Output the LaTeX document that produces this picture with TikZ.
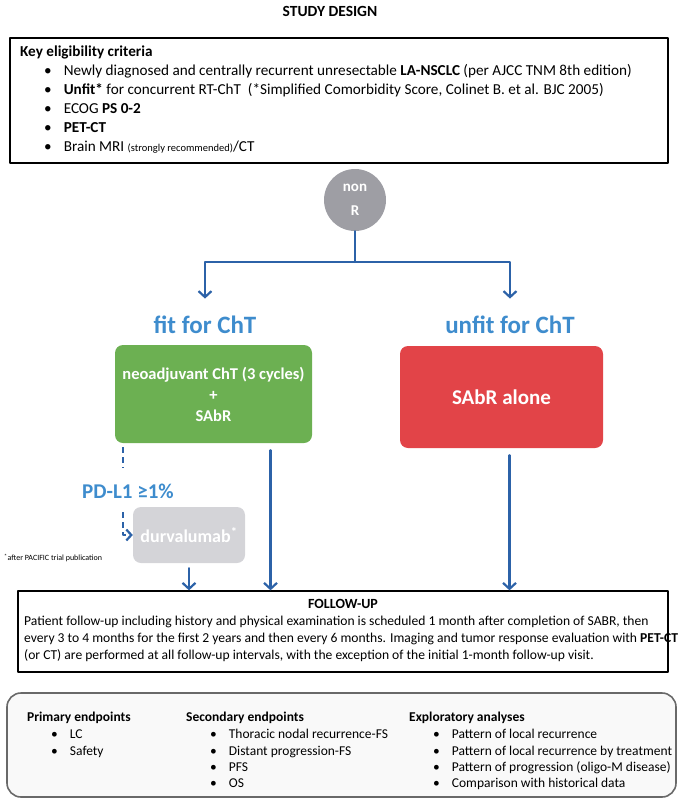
\documentclass[tikz,border=0pt]{standalone}
\usepackage{fontspec}
\setmainfont{Carlito}
\usetikzlibrary{positioning,arrows.meta}

\definecolor{arrowblue}{RGB}{44,98,168}
\definecolor{labelblue}{RGB}{62,140,205}
\definecolor{fitgreen}{RGB}{108,176,82}
\definecolor{unfitred}{RGB}{226,68,72}
\definecolor{randgray}{RGB}{158,158,164}
\definecolor{durvgray}{RGB}{212,212,216}
\definecolor{epgray}{RGB}{105,105,105}

\newcommand{\bitem}{\hspace*{24pt}\textbullet\hspace*{12pt}}

\begin{document}
\begin{tikzpicture}[line cap=round,line join=round,x=1pt,y=-1pt,
    frame/.style={draw=black,line width=1.3pt,inner sep=0pt},
    listtext/.style={anchor=north west,align=left,inner sep=0pt},
    armbox/.style={rounded corners=8pt,text=white,align=center,inner sep=0pt},
    armlabel/.style={text=labelblue,font=\bfseries\fontsize{25}{28}\selectfont},
    flow/.style={draw=arrowblue,line width=2.2pt,-{Straight Barb[length=6pt,width=13pt,line width=2.2pt]}},
    branch/.style={draw=arrowblue,line width=2.2pt},
    dashlink/.style={draw=arrowblue,line width=2.2pt,line cap=butt,dash pattern=on 6pt off 4pt}]
  \useasboundingbox (0,0) rectangle (679,800);

  % title and eligibility
  \node (title) at (330,11) {\bfseries\fontsize{15.5}{18}\selectfont STUDY DESIGN};
  \node[frame,minimum width=658,minimum height=125] (elig) at (339,100.5) {};
  \node[listtext,font=\fontsize{15.2}{19}\selectfont] (crit) at (20,46) {%
    \textbf{Key eligibility criteria}\\
    \bitem Newly diagnosed and centrally recurrent unresectable \textbf{LA-NSCLC} (per AJCC TNM 8th edition)\\
    \bitem \textbf{Unfit*} for concurrent RT-ChT\ \ (*Simplified Comorbidity Score, Colinet B. et al. BJC 2005)\\
    \bitem ECOG \textbf{PS 0-2}\\
    \bitem \textbf{PET-CT}\\
    \bitem Brain MRI {\fontsize{10.5}{12}\selectfont(strongly recommended)}/CT};

  % randomisation and arms
  \node[circle,fill=randgray,minimum size=62,text=white,align=center,
    font=\bfseries\fontsize{15}{24}\selectfont] (rand) at (355,200) {non\\R};
  \coordinate (split) at (355,262);
  \node[armlabel] (fit) at (205,325) {fit for ChT};
  \node[armlabel] (unfit) at (510,325) {unfit for ChT};
  \draw[branch] (rand.south) -- (split);
  \draw[flow] (split) -| ([yshift=14pt]fit.north);
  \draw[flow] (split) -| ([yshift=14pt]unfit.north);

  \node[armbox,fill=fitgreen,minimum width=197,minimum height=98,
    font=\bfseries\fontsize{16.5}{21}\selectfont] (neo) at (213.5,394)
    {neoadjuvant ChT (3 cycles)\\+\\SAbR};
  \node[armbox,fill=unfitred,minimum width=203,minimum height=102,
    font=\bfseries\fontsize{21}{24}\selectfont] (sabr) at (501.5,397) {SAbR alone};

  % PD-L1 branch
  \node[text=labelblue,font=\bfseries\fontsize{21}{24}\selectfont] (pdl) at (128,491) {PD-L1 ≥1\%};
  \node[armbox,fill=durvgray,minimum width=112,minimum height=56,
    font=\bfseries\fontsize{18}{20}\selectfont] (durv) at (189,535) {durvalumab\textsuperscript{*}};
  \node[anchor=west,inner sep=0pt,font=\fontsize{8}{9}\selectfont] (note) at (4,558)
    {\textsuperscript{*}after PACIFIC trial publication};
  \coordinate (dtop) at (123,447);
  \coordinate (dmid) at (123,468);
  \coordinate (dlow) at (123,512);
  \draw[dashlink] (dtop) -- (dmid);
  \draw[dashlink,-{Straight Barb[length=5pt,width=11pt,line width=2.2pt]}] (dlow) |- (durv.west);

  % follow-up
  \node[frame,minimum width=650,minimum height=81] (fu) at (343,631.5) {};
  \node[font=\bfseries\fontsize{14}{16}\selectfont] (futitle) at (343,604) {FOLLOW-UP};
  \node[listtext,font=\fontsize{13.6}{17}\selectfont] (futext) at (24,616) {%
    Patient follow-up including history and physical examination is scheduled 1 month after completion of SABR, then\\
    every 3 to 4 months for the first 2 years and then every 6 months. Imaging and tumor response evaluation with \textbf{PET-CT}\\
    (or CT) are performed at all follow-up intervals, with the exception of the initial 1-month follow-up visit.};

  \draw[flow] ([yshift=-5pt]durv.south) -- (durv.south |- fu.north);
  \draw[flow] ([xshift=57pt,yshift=-7pt]neo.south) -- ([xshift=57pt]neo.south |- fu.north);
  \draw[flow] ([xshift=8pt,yshift=-7pt]sabr.south) -- ([xshift=8pt]sabr.south |- fu.north);

  % endpoints
  \node[draw=epgray,line width=1.6pt,rounded corners=14pt,fill=gray!5,
    minimum width=669,minimum height=104] (ep) at (341.5,745) {};
  \node[listtext,font=\fontsize{13.5}{16.2}\selectfont] (prim) at (27,712) {%
    \textbf{Primary endpoints}\\[1pt]
    \bitem LC\\
    \bitem Safety};
  \node[listtext,font=\fontsize{13.5}{16.2}\selectfont] (sec) at (186,712) {%
    \textbf{Secondary endpoints}\\[1pt]
    \bitem Thoracic nodal recurrence-FS\\
    \bitem Distant progression-FS\\
    \bitem PFS\\
    \bitem OS};
  \node[listtext,font=\fontsize{13.5}{16.2}\selectfont] (expl) at (409,712) {%
    \textbf{Exploratory analyses}\\[1pt]
    \bitem Pattern of local recurrence\\
    \bitem Pattern of local recurrence by treatment\\
    \bitem Pattern of progression (oligo-M disease)\\
    \bitem Comparison with historical data};
\end{tikzpicture}
\end{document}
